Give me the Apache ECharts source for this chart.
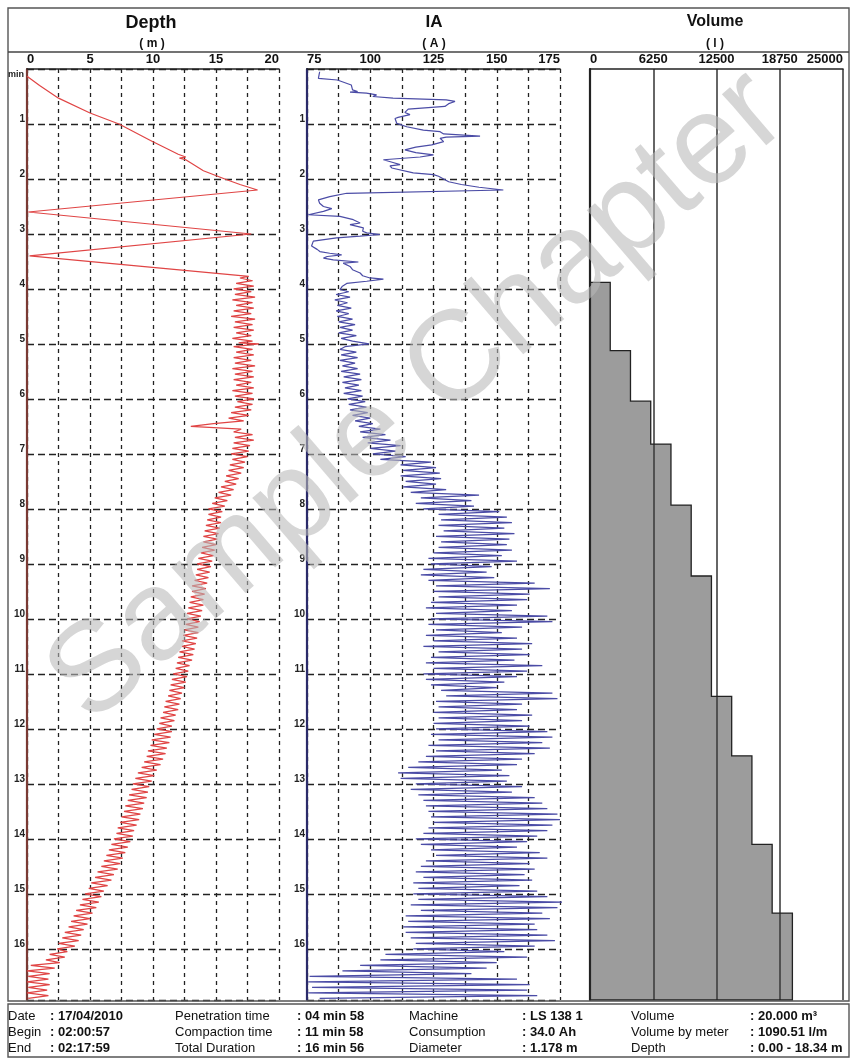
<!DOCTYPE html>
<html><head><meta charset="utf-8">
<script src="https://cdn.jsdelivr.net/npm/echarts@6/dist/echarts.min.js"></script>
<style>html,body{margin:0;padding:0;background:#fff}#c{width:855px;height:1058px}</style>
</head><body><div id="c"></div>
<script>
// ---- data (time in minutes) ----
const timeMax = 16.93;
const depthRange = [0, 20];
const iaRange = [75, 175];
const volRange = [0, 25000];

// depth [time(min), depth(m)]
const depthData = [
[0.13,0],[0.3,1.0],[0.53,2.5],[0.8,5.0],[1.0,7.3],[1.3,9.8],[1.55,12.0],[1.6,12.6],[1.62,12.1],[1.65,12.6],[1.85,14.0],[2.0,15.7],[2.1,16.9],[2.2,18.3],[2.6,0.1],[3.0,17.8],[3.4,0.2],[3.77,17.6],
[3.80,16.9],[3.85,17.9],[3.90,16.6],[3.95,18.0],[4.00,16.4],[4.05,17.8],[4.10,16.5],[4.15,18.1],[4.20,16.3],[4.25,17.9],[4.30,16.6],[4.35,18.0],[4.40,16.4],[4.45,17.8],[4.50,16.2],[4.55,18.1],[4.60,16.5],[4.65,17.9],[4.70,16.4],[4.75,18.0],[4.80,16.6],[4.85,17.8],[4.90,16.3],[4.95,17.9],[4.98,16.8],[5.00,18.4],
[5.05,16.4],[5.10,17.9],[5.15,16.6],[5.20,18.0],[5.25,16.4],[5.30,17.8],[5.35,16.5],[5.40,18.1],[5.45,16.3],[5.50,17.9],[5.55,16.5],[5.60,18.0],[5.65,16.4],[5.70,17.8],[5.75,16.6],[5.80,18.0],[5.85,16.3],[5.90,17.9],[5.95,16.5],[6.00,18.0],
[6.05,16.7],[6.10,17.9],[6.15,16.5],[6.20,17.8],[6.25,16.2],[6.30,17.6],[6.35,16.0],[6.40,17.2],[6.45,14.8],[6.50,13.0],[6.55,17.0],[6.60,16.4],[6.65,17.9],[6.70,16.5],[6.75,18.0],[6.80,16.4],[6.85,17.7],[6.90,16.3],[6.95,17.6],[7.00,16.2],
[7.05,17.5],[7.10,16.3],[7.15,17.3],[7.20,16.1],[7.25,17.2],[7.30,16.0],[7.35,17.0],[7.40,15.8],[7.45,16.8],[7.50,15.7],[7.55,16.6],[7.60,15.4],[7.65,16.4],[7.70,15.2],[7.75,16.2],[7.80,14.9],[7.85,15.9],[7.90,14.7],[7.95,15.7],[8.00,14.4],
[8.05,15.5],[8.10,14.4],[8.15,15.4],[8.20,14.3],[8.25,15.4],[8.30,14.2],[8.35,15.3],[8.40,14.1],[8.45,15.2],[8.50,14.0],[8.55,15.1],[8.60,14.0],[8.65,15.0],[8.70,13.9],[8.75,14.9],[8.80,13.8],[8.85,14.8],[8.90,13.6],[8.95,14.7],[9.00,13.5],
[9.05,14.6],[9.10,13.5],[9.15,14.5],[9.20,13.4],[9.25,14.4],[9.30,13.3],[9.35,14.3],[9.40,13.1],[9.45,14.2],[9.50,13.1],[9.55,14.1],[9.60,13.0],[9.65,14.0],[9.70,12.9],[9.75,14.0],[9.80,12.8],[9.85,13.9],[9.90,12.7],[9.95,13.8],[10.00,12.7],
[10.05,13.7],[10.10,12.6],[10.15,13.6],[10.20,12.5],[10.25,13.6],[10.30,12.4],[10.35,13.5],[10.40,12.3],[10.45,13.4],[10.50,12.3],[10.55,13.3],[10.60,12.1],[10.65,13.2],[10.70,12.0],[10.75,13.1],[10.80,11.9],[10.85,12.9],[10.90,11.8],[10.95,12.8],[11.00,11.6],
[11.05,12.7],[11.10,11.5],[11.15,12.6],[11.20,11.4],[11.25,12.5],[11.30,11.3],[11.35,12.3],[11.40,11.2],[11.45,12.2],[11.50,11.0],[11.55,12.1],[11.60,10.9],[11.65,12.0],[11.70,10.8],[11.75,11.8],[11.80,10.6],[11.85,11.7],[11.90,10.5],[11.95,11.5],[12.00,10.3],
[12.05,11.5],[12.10,10.1],[12.15,11.4],[12.20,9.9],[12.25,11.3],[12.30,9.8],[12.35,11.1],[12.40,9.6],[12.45,11.0],[12.50,9.5],[12.55,10.8],[12.60,9.3],[12.65,10.6],[12.70,9.1],[12.75,10.3],[12.80,8.8],[12.85,10.1],[12.90,8.6],[12.95,9.9],[13.00,8.4],
[13.05,9.7],[13.10,8.3],[13.15,9.6],[13.20,8.1],[13.25,9.5],[13.30,8.0],[13.35,9.3],[13.40,7.8],[13.45,9.2],[13.50,7.7],[13.55,9.0],[13.60,7.5],[13.65,8.9],[13.70,7.4],[13.75,8.7],[13.80,7.2],[13.85,8.5],[13.90,7.1],[13.95,8.4],[14.00,6.9],
[14.05,8.2],[14.10,6.7],[14.15,8.0],[14.20,6.5],[14.25,7.8],[14.30,6.3],[14.35,7.6],[14.40,6.1],[14.45,7.4],[14.50,5.9],[14.55,7.2],[14.60,5.6],[14.65,6.9],[14.70,5.4],[14.75,6.7],[14.80,5.1],[14.85,6.4],[14.90,4.9],[14.95,6.1],[15.00,4.6],
[15.05,5.9],[15.10,4.4],[15.15,5.7],[15.20,4.2],[15.25,5.5],[15.30,3.9],[15.35,5.2],[15.40,3.7],[15.45,5.0],[15.50,3.5],[15.55,4.8],[15.60,3.3],[15.65,4.5],[15.70,3.0],[15.75,4.3],[15.80,2.8],[15.85,4.1],[15.90,2.5],[15.95,3.8],[16.00,2.4],
[16.05,3.2],[16.10,1.8],[16.15,3.0],[16.20,1.5],[16.25,2.6],[16.30,0.3],[16.35,2.2],[16.40,0.0],[16.45,1.8],[16.50,0.1],[16.55,1.7],[16.60,0.0],[16.65,1.8],[16.70,0.1],[16.75,1.6],[16.80,0.0],[16.85,1.7],[16.90,0.1]
];

// IA [time(min), current(A)]
const iaData = [
[0.05,80],[0.17,79.5],[0.2,87],[0.29,92.5],[0.38,93],[0.41,95],[0.42,92],[0.44,98.5],[0.47,102.5],[0.5,101],[0.53,109],[0.56,130],[0.59,133.5],[0.63,131],[0.68,129.5],[0.73,115],[0.79,113.7],[0.83,115.7],[0.88,111],[0.9,109.8],[0.99,110.5],
[1.05,114.4],[1.11,121],[1.14,127.6],[1.18,129],[1.22,143.4],[1.24,130],[1.26,127.6],[1.32,129],[1.38,124.3],[1.42,118],[1.47,113.7],[1.52,118],[1.56,125],[1.6,119.7],[1.65,105.2],[1.7,109],[1.74,111.8],[1.76,107.8],[1.8,108.5],[1.83,107.8],[1.89,117],[1.92,125],[1.95,127],[1.98,126.3],
[2.05,131],[2.1,136],[2.15,143],[2.2,152.6],[2.26,90.7],[2.32,84],[2.38,79.5],[2.44,80],[2.5,81.5],[2.54,84.8],[2.59,81.5],[2.65,75.5],[2.68,88],[2.74,93.3],[2.8,96],[2.83,92],[2.89,97.3],[2.95,97],[2.98,98.6],
[3.01,103.8],[3.04,96],[3.07,86.7],[3.13,77.5],[3.22,76.8],[3.28,79],[3.32,80.1],[3.35,84],[3.38,88.7],[3.41,83],[3.44,81.5],[3.47,85.4],[3.51,95.3],[3.53,89.3],[3.59,92],[3.65,93],[3.71,96],[3.76,97],[3.8,99.9],[3.82,105.2],[3.86,98.6],[3.9,90.7],[3.95,89],[4.01,88],
[4.05,91.5],[4.10,86.5],[4.15,92],[4.20,86],[4.25,91],[4.30,87],[4.35,92.5],[4.40,86.5],[4.45,91.5],[4.50,87],[4.55,93],[4.60,87.5],[4.65,94],[4.70,88],[4.75,93],[4.80,87.5],[4.85,94.5],[4.90,88.5],[4.95,93],[5.00,99.5],
[5.05,90],[5.10,88],[5.15,94.5],[5.20,88.5],[5.25,95],[5.30,88],[5.35,94],[5.40,89],[5.45,95],[5.50,88.5],[5.55,96],[5.60,89.5],[5.65,96.5],[5.70,89],[5.75,95.5],[5.80,90],[5.85,96.5],[5.90,89.5],[5.95,97],[6.00,91],
[6.05,98],[6.10,91.5],[6.15,98.5],[6.20,92],[6.25,99],[6.30,93],[6.35,100],[6.40,94],[6.45,101],[6.50,95.5],[6.55,104],[6.60,96],[6.65,106],[6.70,97],[6.75,108],[6.80,99],[6.85,112],[6.90,100],[6.95,110],[7.00,101],
[7.05,114],[7.10,104],[7.15,124],[7.20,112],[7.25,126],[7.30,113],[7.35,127.5],[7.40,112],[7.45,128],[7.50,114],[7.55,126],[7.60,113],[7.65,130],[7.70,116],[7.75,143],[7.80,120],[7.85,140],[7.90,118],[7.95,141],[8.00,121],
[8.05,151],[8.10,127],[8.15,154],[8.20,128],[8.25,156],[8.30,127],[8.35,153],[8.40,129],[8.45,157],[8.50,126],[8.55,155],[8.60,128],[8.65,154],[8.70,127],[8.75,156],[8.80,125],[8.85,152],[8.90,123],[8.95,158],[9.00,124],
[9.05,148],[9.10,121],[9.15,146],[9.20,120],[9.25,149],[9.30,123],[9.35,165],[9.40,126],[9.45,171],[9.50,125],[9.55,163],[9.60,127],[9.65,162],[9.70,124],[9.75,158],[9.80,122],[9.85,156],[9.90,126],[9.95,170],[10.00,124],
[10.05,172],[10.10,123],[10.15,160],[10.20,126],[10.25,152],[10.30,122],[10.35,158],[10.40,125],[10.45,164],[10.50,121],[10.55,160],[10.60,127],[10.65,163],[10.70,124],[10.75,157],[10.80,122],[10.85,168],[10.90,125],[10.95,162],[11.00,121],
[11.05,158],[11.10,122],[11.15,153],[11.20,124],[11.25,150],[11.30,128],[11.35,172],[11.40,130],[11.45,174],[11.50,126],[11.55,160],[11.60,127],[11.65,158],[11.70,125],[11.75,164],[11.80,127],[11.85,160],[11.90,125],[11.95,163],[12.00,126],
[12.05,170],[12.10,124],[12.15,172],[12.20,127],[12.25,168],[12.30,123],[12.35,171],[12.40,126],[12.45,165],[12.50,122],[12.55,160],[12.60,119],[12.65,158],[12.70,115],[12.75,152],[12.80,111],[12.85,155],[12.90,112],[12.95,154],[13.00,118],
[13.05,160],[13.10,116],[13.15,156],[13.20,119],[13.25,165],[13.30,121],[13.35,168],[13.40,122],[13.45,170],[13.50,123],[13.55,174],[13.60,124],[13.65,175],[13.70,125],[13.75,172],[13.80,123],[13.85,170],[13.90,121],[13.95,166],[14.00,118],
[14.05,162],[14.10,120],[14.15,158],[14.20,124],[14.25,167],[14.30,126],[14.35,170],[14.40,122],[14.45,163],[14.50,120],[14.55,165],[14.60,118],[14.65,161],[14.70,121],[14.75,164],[14.80,117],[14.85,159],[14.90,119],[14.95,166],[15.00,117],
[15.05,170],[15.10,119],[15.15,176],[15.20,116],[15.25,174],[15.30,120],[15.35,168],[15.40,114],[15.45,171],[15.50,115],[15.55,165],[15.60,113],[15.65,166],[15.70,114],[15.75,170],[15.80,116],[15.85,173],[15.90,118],[15.95,165],[16.00,117],
[16.05,153],[16.10,106],[16.15,162],[16.20,104],[16.25,150],[16.30,96],[16.35,146],[16.40,89],[16.45,140],[16.50,76],[16.55,158],[16.60,75.5],[16.65,163],[16.70,77],[16.75,162],[16.80,75.5],[16.85,166],[16.90,80]
];

// cumulative volume steps: time at which each batch is added, cumulative litres
const volStepTimes = [3.88, 5.12, 6.04, 6.82, 7.93, 9.22, 11.41, 12.49, 14.10, 15.35];
const volStepValues = [2000, 4000, 6000, 8000, 10000, 12000, 14000, 16000, 18000, 20000];

// ---- chart ----
const FF = '"Liberation Sans", Arial, Helvetica, sans-serif';
const chart = echarts.init(document.getElementById('c'), null, {renderer: 'canvas'});

const grids = [
  {left: 27, top: 69, width: 252, height: 931},
  {left: 307, top: 69, width: 253, height: 931},
  {left: 590, top: 69, width: 253, height: 931}
];

function xAx(gi, range, interval, labelStep, dashed) {
  return {
    type: 'value', gridIndex: gi, position: 'top', min: range[0], max: range[1], interval: interval,
    axisLine: {show: true, onZero: false, lineStyle: {color: '#222', width: 1.6}},
    axisTick: {show: false},
    axisLabel: {
      margin: 3, fontSize: 13, fontWeight: 'bold', color: '#111', fontFamily: FF,
      alignMinLabel: 'left', alignMaxLabel: 'right',
      formatter: v => (Math.abs(((v - range[0]) / labelStep) - Math.round((v - range[0]) / labelStep)) < 1e-6) ? String(v) : ''
    },
    splitLine: {show: true, lineStyle: dashed ? {type: [4, 4], color: '#222', width: 1.3} : {type: 'solid', color: '#333', width: 1.5}}
  };
}
function yAx(gi, lineColor, showSplit, showLabel) {
  return {
    type: 'value', gridIndex: gi, inverse: true, min: 0, max: timeMax, interval: 1,
    axisLine: {show: true, onZero: false, lineStyle: {color: lineColor, width: 2.2}},
    axisTick: {show: false},
    axisLabel: {
      show: showLabel, margin: 2, fontSize: 10, fontWeight: 'bold', color: '#222', fontFamily: FF,
      verticalAlign: 'bottom', showMinLabel: false,
      formatter: v => (Number.isInteger(v) && v > 0) ? String(v) : ''
    },
    splitLine: {show: showSplit, lineStyle: {type: [7, 4], color: '#222', width: 1.3}}
  };
}

function volumePolygon(params, api) {
  if (params.dataIndex !== 0) return null;
  const n = volStepTimes.length;
  const pts = [api.coord([0, volStepTimes[0]])];
  for (let i = 0; i < n; i++) {
    const tEnd = i < n - 1 ? volStepTimes[i + 1] : timeMax;
    pts.push(api.coord([volStepValues[i], volStepTimes[i]]));
    pts.push(api.coord([volStepValues[i], tEnd]));
  }
  pts.push(api.coord([0, timeMax]));
  return {type: 'polygon', shape: {points: pts},
    style: {fill: 'rgba(60,60,60,0.51)', stroke: '#222', lineWidth: 1.3}};
}

function T(x, y, text, font, align, color) {
  return {type: 'text', x: x, y: y, z: 10,
    style: {text: text, font: font, fill: color || '#111', align: align || 'left', verticalAlign: 'middle'}};
}
function L(x1, y1, x2, y2, w) {
  return {type: 'line', z: 10, shape: {x1: x1, y1: y1, x2: x2, y2: y2}, style: {stroke: '#444', lineWidth: w || 1.4}};
}

const lab = '13px ' + FF, val = 'bold 13px ' + FF;
const footer = [
  ['Date', ': 17/04/2010', 'Penetration time', ': 04 min 58', 'Machine', ': LS 138 1', 'Volume', ': 20.000 m³'],
  ['Begin', ': 02:00:57', 'Compaction time', ': 11 min 58', 'Consumption', ': 34.0 Ah', 'Volume by meter', ': 1090.51 l/m'],
  ['End', ': 02:17:59', 'Total Duration', ': 16 min 56', 'Diameter', ': 1.178 m', 'Depth', ': 0.00 - 18.34 m']
];
const footRowsY = [1016, 1032, 1048];
const footColsX = [8, 50, 175, 297, 409, 522, 631, 750];
const graphics = [
  {type: 'rect', z: 10, shape: {x: 8, y: 8, width: 841, height: 993}, style: {fill: 'none', stroke: '#555', lineWidth: 1.4}},
  L(8, 52, 849, 52),
  {type: 'rect', z: 10, shape: {x: 8, y: 1004, width: 841, height: 53}, style: {fill: 'none', stroke: '#555', lineWidth: 1.4}},
  T(151, 23, 'Depth', 'bold 18px ' + FF, 'center'),
  T(152, 44, '( m )', 'bold 12px ' + FF, 'center'),
  T(434, 22, 'IA', 'bold 17px ' + FF, 'center'),
  T(434, 44, '( A )', 'bold 12px ' + FF, 'center'),
  T(715, 22, 'Volume', 'bold 16px ' + FF, 'center'),
  T(715, 44, '( l )', 'bold 12px ' + FF, 'center'),
  T(24, 75, 'min', 'bold 9px ' + FF, 'right', '#222')
];
footer.forEach((row, r) => row.forEach((s, c) => {
  graphics.push(T(footColsX[c], footRowsY[r], s, c % 2 ? val : lab, 'left', '#111'));
}));
graphics.push({type: 'text', x: 418, y: 398, rotation: 0.71, z: 100,
  style: {text: 'Sample Chapter', font: '128px ' + FF, fill: 'rgba(185,185,185,0.58)', align: 'center', verticalAlign: 'middle'}});

chart.setOption({
  animation: false,
  backgroundColor: '#fff',
  grid: grids,
  xAxis: [xAx(0, depthRange, 2.5, 5, true), xAx(1, iaRange, 12.5, 25, true), xAx(2, volRange, 6250, 6250, false)],
  yAxis: [yAx(0, '#7a3a34', true, true), yAx(1, '#2b2b6a', true, true), yAx(2, '#222', false, false)],
  series: [
    {type: 'line', xAxisIndex: 0, yAxisIndex: 0, data: depthData.map(d => [d[1], d[0]]),
      showSymbol: false, symbol: 'none', lineStyle: {color: '#e04545', width: 1.2}, z: 3},
    {type: 'line', xAxisIndex: 1, yAxisIndex: 1, data: iaData.map(d => [d[1], d[0]]),
      showSymbol: false, symbol: 'none', lineStyle: {color: '#4b4ca6', width: 1.2}, z: 3},
    {type: 'custom', xAxisIndex: 2, yAxisIndex: 2, renderItem: volumePolygon,
      data: volStepTimes.map((t, i) => [volStepValues[i], t]), z: 3}
  ],
  graphic: graphics
});
</script></body></html>
